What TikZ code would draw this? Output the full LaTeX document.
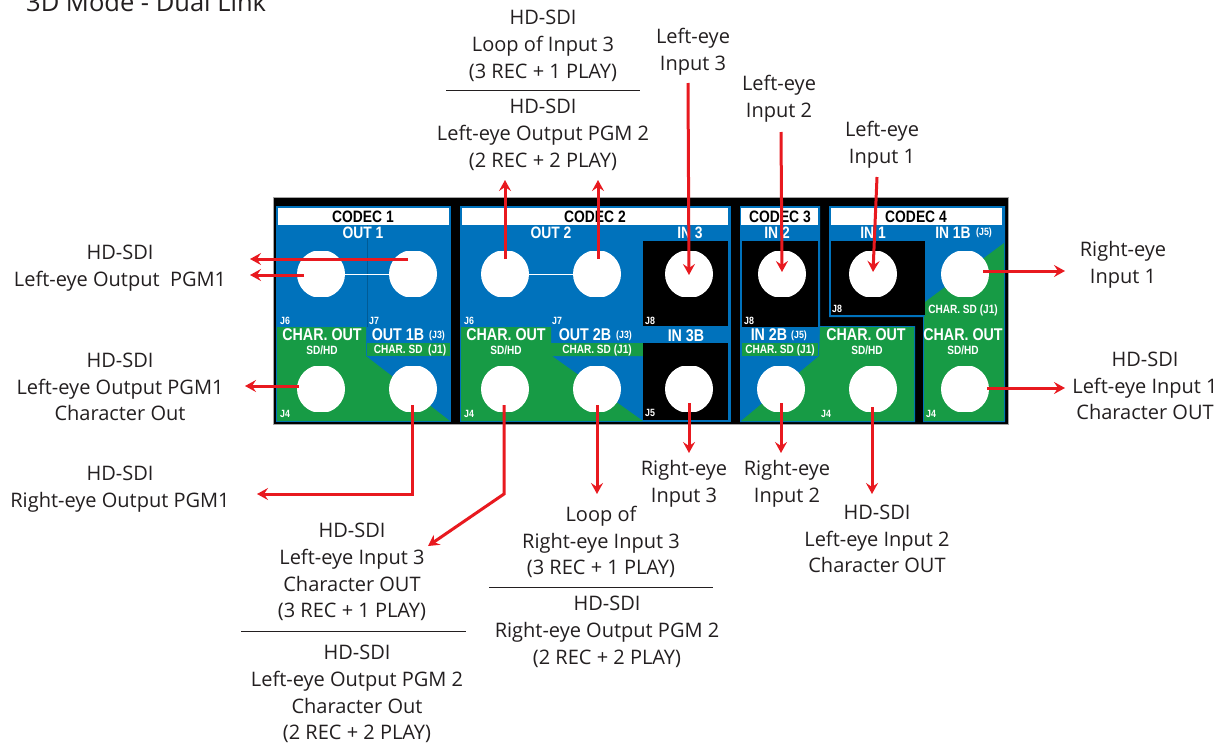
\documentclass[tikz,border=0pt]{standalone}
\usepackage{fontspec}
\usetikzlibrary{arrows.meta}
\setmainfont{Open Sans}
\newfontfamily\panelfont[FakeStretch=0.84]{Liberation Sans}
\definecolor{pblue}{HTML}{0072BC}
\definecolor{pgreen}{HTML}{179B45}
\definecolor{rline}{HTML}{E8191F}
\definecolor{txt}{HTML}{231F20}
\tikzset{
  x=1pt,y=-1pt,
  lbl/.style={align=center,inner sep=0pt,text=txt,font=\fontsize{20}{26.8}\selectfont},
  ptext/.style={inner sep=0pt,text=white,font=\panelfont\bfseries\fontsize{#1}{#1}\selectfont},
  ptitle/.style={inner sep=0pt,text=black,font=\panelfont\bfseries\fontsize{16.5}{17}\selectfont},
  jacknode/.style={circle,fill=white,minimum size=48pt,inner sep=0pt,outer sep=0pt},
  rline/.style={draw=rline,line width=3pt,line join=miter},
  rarrow/.style={rline,-{Stealth[length=11pt,width=12pt,inset=4pt]}},
  sepline/.style={draw=txt,line width=0.9pt},
}
\newcommand{\jack}[3]{%
  \begin{scope}
    \clip (#2-25,#3-22.3) rectangle (#2+25,#3+22.7);
    \node[jacknode] (#1) at (#2,#3) {};
  \end{scope}}
\begin{document}
\begin{tikzpicture}
\clip (0,0) rectangle (1228,747);
\fill[white] (0,0) rectangle (1228,747);
\node[anchor=base west,inner sep=0pt,text=txt,font=\fontsize{25.5}{28}\selectfont] (title) at (26,11) {3D Mode - Dual Link};

% chassis
\fill[black] (273,197) rectangle (1008,424);
\draw[gray!70,line width=0.8pt] (273,197) rectangle (1008,424);

% CODEC 1
\fill[pblue] (276,206) rectangle (451,422);
\fill[pgreen] (277,327) -- (366,327) -- (366,356) -- (450,421) -- (277,421) -- cycle;
\fill[pgreen] (367,343) rectangle (450,356);
\fill[white] (278,208) rectangle (449,225);
\draw[pblue!80!black,line width=0.4pt] (367,225) -- (367,327);
\node[ptitle] (c1) at (363,217) {CODEC 1};
\node[ptext=16.5] (o1) at (363,233) {OUT 1};
\node[ptext=10.5] (j61) at (285,321) {J6};
\node[ptext=10.5] (j71) at (374,321) {J7};
\node[ptext=10.5] (j41) at (285,414) {J4};
\node[ptext=17] (co1) at (322,335) {CHAR. OUT};
\node[ptext=12] (sd1) at (322,350) {SD/HD};
\node[ptext=17] (o1b) at (398,335) {OUT 1B};
\node[ptext=10.5] (o1bj) at (437,336) {(J3)};
\node[ptext=12] (cs1) at (410,350) {CHAR. SD\ \ (J1)};

% CODEC 2
\fill[pblue] (460,206) rectangle (731,422);
\fill[pgreen] (461,327) -- (551,327) -- (551,343) -- (643,343) -- (643,356) -- (552,356) -- (643,421) -- (461,421) -- cycle;
\fill[white] (462,208) rectangle (728,225);
\fill[black] (643,241) rectangle (728,326);
\fill[black] (643,343) rectangle (728,420);
\node[ptitle] (c2) at (595,217) {CODEC 2};
\node[ptext=16.5] (o2) at (551,233) {OUT 2};
\node[ptext=16.5] (i3) at (690,233) {IN 3};
\node[ptext=17] (i3b) at (686,336) {IN 3B};
\node[ptext=10.5] (j62) at (469,321) {J6};
\node[ptext=10.5] (j72) at (557,321) {J7};
\node[ptext=10.5] (j82) at (650,321) {J8};
\node[ptext=10.5] (j42) at (469,414) {J4};
\node[ptext=10.5] (j52) at (650,413) {J5};
\node[ptext=17] (co2) at (506,335) {CHAR. OUT};
\node[ptext=12] (sd2) at (506,350) {SD/HD};
\node[ptext=17] (o2b) at (585,335) {OUT 2B};
\node[ptext=10.5] (o2bj) at (624,336) {(J3)};
\node[ptext=12] (cs2) at (597,350) {CHAR. SD (J1)};

% CODEC 3
\fill[pblue] (740,206) -- (820,206) -- (820,326) -- (915,326) -- (915,422) -- (740,422) -- cycle;
\fill[pgreen] (820,327) -- (914,327) -- (914,421) -- (741,421) -- (819,356) -- cycle;
\fill[pgreen] (742,343) rectangle (818,356);
\fill[white] (741,208) rectangle (818,225);
\fill[black] (742,241) rectangle (818,327);
\node[ptitle] (c3) at (780,217) {CODEC 3};
\node[ptext=16.5] (i2) at (777,233) {IN 2};
\node[ptext=10.5] (j83) at (749,321) {J8};
\node[ptext=17] (i2b) at (769,335) {IN 2B};
\node[ptext=10.5] (i2bj) at (799,336) {(J5)};
\node[ptext=12] (cs3) at (780,350) {CHAR. SD (J1)};
\node[ptext=17] (co3) at (866,335) {CHAR. OUT};
\node[ptext=12] (sd3) at (867,350) {SD/HD};
\node[ptext=10.5] (j43) at (826,414) {J4};

% CODEC 4
\fill[pblue] (829,206) -- (1005,206) -- (1005,422) -- (923,422) -- (923,317) -- (829,317) -- cycle;
\fill[pgreen] (1004,243) -- (1004,421) -- (924,421) -- (924,316) -- (925,316) -- (925,302) -- cycle;
\fill[white] (831,208) rectangle (1002,225);
\fill[black] (831,241) rectangle (925,315);
\node[ptitle] (c4) at (916,217) {CODEC 4};
\node[ptext=16.5] (i1) at (873,233) {IN 1};
\node[ptext=16.5] (i1b) at (953,233) {IN 1B};
\node[ptext=10.5] (i1bj) at (984,233) {(J5)};
\node[ptext=10.5] (j84) at (837,309) {J8};
\node[ptext=12] (cs4) at (963,310) {CHAR. SD (J1)};
\node[ptext=17] (co4) at (963,335) {CHAR. OUT};
\node[ptext=12] (sd4) at (963,350) {SD/HD};
\node[ptext=10.5] (j44) at (931,414) {J4};

% jacks
\jack{ja}{321}{274}\jack{jb}{413}{274}\jack{jc}{321}{389}\jack{jd}{413}{389}
\jack{je}{505}{274}\jack{jf}{597}{274}\jack{jg}{689}{274}
\jack{jh}{505}{389}\jack{ji}{597}{389}\jack{jj}{689}{389}
\jack{jk}{782}{274}\jack{jl}{781}{389}\jack{jm}{873}{389}
\jack{jn}{873}{274}\jack{jo}{965}{274}\jack{jp}{965}{389}
\draw[white,line width=0.9pt] (ja) -- (jb);
\draw[white,line width=0.9pt] (je) -- (jf);

% labels
\node[lbl] (t1) at (543,46) {HD-SDI\\Loop of Input 3\\(3 REC + 1 PLAY)};
\node[lbl] (t2) at (543,135) {HD-SDI\\Left-eye Output PGM 2\\(2 REC + 2 PLAY)};
\node[lbl] (li3) at (693,52) {Left-eye\\Input 3};
\node[lbl] (li2) at (779,99) {Left-eye\\Input 2};
\node[lbl] (li1) at (882,145) {Left-eye\\Input 1};
\node[lbl] (l1) at (120,268) {HD-SDI\\Left-eye Output\ \ PGM1};
\node[lbl] (l2) at (120,387) {HD-SDI\\Left-eye Output PGM1\\Character Out};
\node[lbl] (l3) at (120,489) {HD-SDI\\Right-eye Output PGM1};
\node[lbl] (r1) at (1123,265) {Right-eye\\Input 1};
\node[lbl] (r2) at (1145,386) {HD-SDI\\Left-eye Input 1\\Character OUT};
\node[lbl] (b3) at (684,484) {Right-eye\\Input 3};
\node[lbl] (b2) at (787,484) {Right-eye\\Input 2};
\node[lbl] (b4) at (877,539) {HD-SDI\\Left-eye Input 2\\Character OUT};
\node[lbl] (m1) at (601,542) {Loop of\\Right-eye Input 3\\(3 REC + 1 PLAY)};
\node[lbl] (m2) at (607,632) {HD-SDI\\Right-eye Output PGM 2\\(2 REC + 2 PLAY)};
\node[lbl] (s1) at (352,572) {HD-SDI\\Left-eye Input 3\\Character OUT\\(3 REC + 1 PLAY)};
\node[lbl] (s2) at (357,694) {HD-SDI\\Left-eye Output PGM 2\\Character Out\\(2 REC + 2 PLAY)};

% separators
\coordinate (sa1) at (446,90); \coordinate (sa2) at (640,90);
\coordinate (sb1) at (489,587); \coordinate (sb2) at (713,587);
\coordinate (sc1) at (241,631); \coordinate (sc2) at (466,631);
\draw[sepline] (sa1) -- (sa2);
\draw[sepline] (sb1) -- (sb2);
\draw[sepline] (sc1) -- (sc2);

% connector free ends
\coordinate (a3) at (688,83);
\coordinate (a2) at (781,132);
\coordinate (a1) at (877,177);
\coordinate (ar1) at (1065,271);
\coordinate (al1) at (250,259);
\coordinate (al2) at (250,275);
\coordinate (al3) at (245,386);
\coordinate (c1k) at (412,494);
\coordinate (al4) at (257,494);
\coordinate (au1) at (505,180);
\coordinate (au2) at (598,180);
\coordinate (c2k) at (504,494);
\coordinate (as) at (428,546);
\coordinate (ad1) at (597,494);
\coordinate (ad2) at (689,453);
\coordinate (ad3) at (781,453);
\coordinate (ad4) at (872,494);
\coordinate (ar2) at (1065,388);

% connectors
\draw[rarrow] (a3) -- ([yshift=-1pt]jg.center);
\draw[rarrow] (a2) -- ([yshift=2pt]jk.center);
\draw[rarrow] (a1) -- ([yshift=2pt]jn.center);
\draw[rarrow] ([xshift=18pt,yshift=3pt]jo.center) -- (ar1);
\draw[rarrow] ([xshift=-5pt,yshift=15pt]jb.center) -- (al1);
\draw[rarrow] ([xshift=-17pt,yshift=-1pt]ja.center) -- (al2);
\draw[rarrow] ([xshift=-22pt,yshift=3pt]jc.center) -- (al3);
\draw[rarrow] ([xshift=-1pt,yshift=-16pt]jd.center) -- (c1k) -- (al4);
\draw[rarrow] ([yshift=15pt]je.center) -- (au1);
\draw[rarrow] ([xshift=1pt,yshift=15pt]jf.center) -- (au2);
\draw[rarrow] ([xshift=-1pt,yshift=-16pt]jh.center) -- (c2k) -- (as);
\draw[rarrow] ([yshift=-16pt]ji.center) -- (ad1);
\draw[rarrow] ([yshift=-14pt]jj.center) -- (ad2);
\draw[rarrow] ([yshift=-14pt]jl.center) -- (ad3);
\draw[rarrow] ([xshift=-1pt,yshift=-18pt]jm.center) -- (ad4);
\draw[rarrow] ([xshift=22pt,yshift=1pt]jp.center) -- (ar2);
\end{tikzpicture}
\end{document}
